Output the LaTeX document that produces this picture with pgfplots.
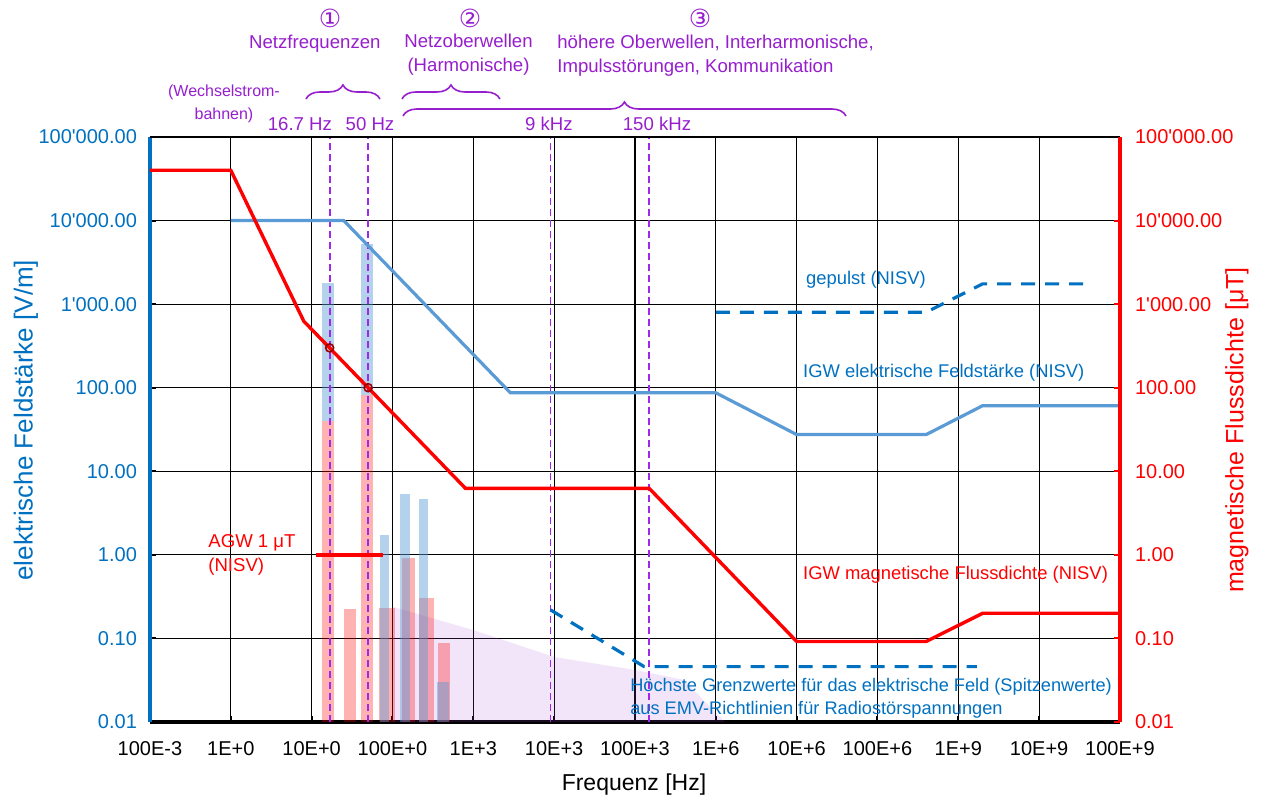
\documentclass[border=0pt]{standalone}
\usepackage{fontspec}
\setmainfont{Liberation Sans}
\newfontfamily\symfont{DejaVu Sans}
\usepackage{pgfplots}
\pgfplotsset{compat=1.18}
\usetikzlibrary{decorations.pathreplacing}

\definecolor{eblue}{RGB}{0,112,192}
\definecolor{lblue}{RGB}{91,155,213}
\definecolor{vio}{RGB}{150,30,205}
\definecolor{vline}{RGB}{160,40,235}
\definecolor{shade}{RGB}{170,80,220}

\newcommand{\q}{\textquotesingle}
\newcommand{\fs}[1]{\fontsize{#1}{#1}\selectfont}

\begin{document}
\begin{tikzpicture}
\begin{axis}[
  scale only axis, width=485pt, height=292.5pt,
  xmode=log, ymode=log,
  xmin=1e-1, xmax=1e11, ymin=1e-2, ymax=1e5,
  clip=false,
  axis x line*=bottom, axis y line*=left,
  x axis line style={black, line width=2pt, -},
  y axis line style={eblue, line width=2pt, -},
  xtick={1e-1,1e0,1e1,1e2,1e3,1e4,1e5,1e6,1e7,1e8,1e9,1e10,1e11},
  xticklabels={100E-3,1E+0,10E+0,100E+0,1E+3,10E+3,100E+3,1E+6,10E+6,100E+6,1E+9,10E+9,100E+9},
  ytick={1e-2,1e-1,1e0,1e1,1e2,1e3,1e4,1e5},
  yticklabels={0.01,0.10,1.00,10.00,100.00,1\q 000.00,10\q 000.00,100\q 000.00},
  minor tick num=0, minor x tick style={draw=none}, minor y tick style={draw=none},
  xminorgrids=false, yminorgrids=false,
  grid=major, major grid style={black, line width=0.6pt},
  tick style={black, line width=1pt}, major tick length=3pt,
  tick align=inside,
  xticklabel style={font=\fs{10}, black, yshift=-6pt},
  yticklabel style={font=\fs{10}, eblue, xshift=-3pt},
]
% bounding frame of the whole figure
\coordinate (BL) at (rel axis cs:-0.1546,-0.1299);
\coordinate (TR) at (rel axis cs:1.1464,1.2342);

% band of typical interference spectra
\addplot[fill=shade, fill opacity=0.15, draw=none]
  coordinates {(100,0.01)(100,0.24)(1e3,0.126)(1e4,0.06)(1e5,0.042)(4e5,0.032)(1.3e6,0.01)} -- cycle;

% magnetic flux density bars
\addplot[fill=red, fill opacity=0.3, draw=none] coordinates {(13.4,0.01)(13.4,40)(18.9,40)(18.9,0.01)} -- cycle;
\addplot[fill=red, fill opacity=0.3, draw=none] coordinates {(40.7,0.01)(40.7,82)(57.4,82)(57.4,0.01)} -- cycle;
\addplot[fill=red, fill opacity=0.3, draw=none] coordinates {(25.1,0.01)(25.1,0.225)(35.4,0.225)(35.4,0.01)} -- cycle;
\addplot[fill=red, fill opacity=0.3, draw=none] coordinates {(68,0.01)(68,0.23)(107,0.23)(107,0.01)} -- cycle;
\addplot[fill=red, fill opacity=0.3, draw=none] coordinates {(131,0.01)(131,0.92)(190,0.92)(190,0.01)} -- cycle;
\addplot[fill=red, fill opacity=0.3, draw=none] coordinates {(213,0.01)(213,0.305)(327,0.305)(327,0.01)} -- cycle;
\addplot[fill=red, fill opacity=0.3, draw=none] coordinates {(366,0.01)(366,0.088)(514,0.088)(514,0.01)} -- cycle;

% electric field bars
\addplot[fill=lblue, fill opacity=0.45, draw=none] coordinates {(13.4,40)(13.4,1790)(18.9,1790)(18.9,40)} -- cycle;
\addplot[fill=lblue, fill opacity=0.45, draw=none] coordinates {(40.7,82)(40.7,5300)(57.4,5300)(57.4,82)} -- cycle;
\addplot[fill=lblue, fill opacity=0.45, draw=none] coordinates {(70,0.01)(70,1.75)(90.6,1.75)(90.6,0.01)} -- cycle;
\addplot[fill=lblue, fill opacity=0.45, draw=none] coordinates {(124,0.01)(124,5.4)(165,5.4)(165,0.01)} -- cycle;
\addplot[fill=lblue, fill opacity=0.45, draw=none] coordinates {(213,0.01)(213,4.6)(275,4.6)(275,0.01)} -- cycle;
\addplot[fill=lblue, fill opacity=0.45, draw=none] coordinates {(356,0.01)(356,0.030)(500,0.030)(500,0.01)} -- cycle;

% frequency markers
\addplot[vline, line width=0.9pt, dash pattern=on 3.5pt off 2pt] coordinates {(16.7,0.01)(16.7,1e5)};
\addplot[vline, line width=0.9pt, dash pattern=on 3.5pt off 2pt] coordinates {(50,0.01)(50,1e5)};
\addplot[vline, line width=0.9pt, dash pattern=on 3.5pt off 2pt] coordinates {(9e3,0.01)(9e3,1e5)};
\addplot[vline, line width=0.9pt, dash pattern=on 3.5pt off 2pt] coordinates {(1.5e5,0.01)(1.5e5,1e5)};

% IGW electric field (NISV)
\addplot[lblue, line width=1.6pt] coordinates
  {(1,1e4)(25,1e4)(2873,87)(1e6,87)(1e7,27.5)(4e8,27.5)(2e9,61)(1e11,61)};
% pulsed
\addplot[eblue, line width=1.6pt, dash pattern=on 7pt off 5pt] coordinates
  {(1e6,800)(4e8,800)(2e9,1750)(4e10,1750)};
% EMV limits
\addplot[eblue, line width=1.6pt, dash pattern=on 7pt off 5pt] coordinates
  {(9e3,0.22)(1.3e5,0.046)(1.7e9,0.046)};
% IGW magnetic flux density (NISV)
\addplot[red, line width=1.7pt] coordinates
  {(1e-1,4e4)(1,4e4)(8,625)(800,6.25)(1.5e5,6.25)(1e7,0.092)(4e8,0.092)(2e9,0.2)(1e11,0.2)};
% AGW 1 uT
\addplot[red, line width=1.9pt] coordinates {(11.3,1)(76,1)};
% values at 16.7 Hz and 50 Hz
\addplot[only marks, mark=o, mark size=2pt, mark options={draw=red!60!black, line width=0.8pt}]
  coordinates {(16.7,300)(50,100)};

% curve labels
\node[anchor=west, inner sep=0pt, text=eblue, font=\fs{9.2}] at (rel axis cs:0.676,0.7556) {gepulst (NISV)};
\node[anchor=west, inner sep=0pt, text=eblue, font=\fs{9.2}] at (rel axis cs:0.673,0.5966) {IGW elektrische Feldstärke (NISV)};
\node[anchor=west, inner sep=0pt, text=red, font=\fs{9.2}] at (rel axis cs:0.673,0.2513) {IGW magnetische Flussdichte (NISV)};
\node[anchor=west, text=red, font=\fs{9.3}, align=left, inner sep=0pt] at (rel axis cs:0.0598,0.2855) {AGW 1 μT\\[3pt](NISV)};
\node[anchor=west, text=eblue, font=\fs{9.1}, align=left, inner sep=0pt] at (rel axis cs:0.4948,0.041)
  {Höchste Grenzwerte für das elektrische Feld (Spitzenwerte)\\[2.5pt]aus EMV-Richtlinien für Radiostörspannungen};

% frequency ranges above the plot
\node[text=vio, font=\symfont\fs{12.5}, inner sep=0pt] at (rel axis cs:0.1856,1.2034) {①};
\node[text=vio, font=\fs{9.3}, inner sep=0pt] at (rel axis cs:0.170,1.159) {Netzfrequenzen};
\node[text=vio, font=\symfont\fs{12.5}, inner sep=0pt] at (rel axis cs:0.3299,1.2034) {②};
\node[text=vio, font=\fs{9.3}, align=center, inner sep=0pt] at (rel axis cs:0.3284,1.141) {Netzoberwellen\\[3pt](Harmonische)};
\node[text=vio, font=\symfont\fs{12.5}, inner sep=0pt] at (rel axis cs:0.567,1.2034) {③};
\node[anchor=west, text=vio, font=\fs{9.3}, align=left, inner sep=0pt] at (rel axis cs:0.4196,1.139)
  {höhere Oberwellen, Interharmonische,\\[3pt]Impulsstörungen, Kommunikation};
\node[text=vio, font=\fs{8}, align=center, inner sep=0pt] at (rel axis cs:0.0763,1.0564) {(Wechselstrom-\\[3.5pt]bahnen)};
\node[text=vio, font=\fs{9.3}] at (rel axis cs:0.1546,1.0222) {16.7 Hz};
\node[text=vio, font=\fs{9.3}] at (rel axis cs:0.2268,1.0222) {50 Hz};
\node[text=vio, font=\fs{9.3}] at (rel axis cs:0.4113,1.0222) {9 kHz};
\node[text=vio, font=\fs{9.3}] at (rel axis cs:0.5227,1.0222) {150 kHz};
\draw[vio, line width=0.8pt, decorate, decoration={brace, amplitude=7pt}]
  (rel axis cs:0.1608,1.065) -- (rel axis cs:0.2371,1.065);
\draw[vio, line width=0.8pt, decorate, decoration={brace, amplitude=7pt}]
  (rel axis cs:0.2598,1.065) -- (rel axis cs:0.3608,1.065);
\draw[vio, line width=0.8pt, decorate, decoration={brace, amplitude=7pt}]
  (rel axis cs:0.2608,1.0359) -- (rel axis cs:0.7175,1.0359);

% axis titles
\node[rotate=90, text=eblue, font=\fs{13}] at (rel axis cs:-0.128,0.516) {elektrische Feldstärke [V/m]};
\node[rotate=90, text=red, font=\fs{12.5}] at (rel axis cs:1.1206,0.499) {magnetische Flussdichte [μT]};
\node[font=\fs{11.5}] at (rel axis cs:0.499,-0.1077) {Frequenz [Hz]};
\end{axis}

% right-hand scale for the magnetic flux density
\begin{axis}[
  scale only axis, width=485pt, height=292.5pt,
  xmode=log, ymode=log,
  xmin=1e-1, xmax=1e11, ymin=1e-2, ymax=1e5,
  axis x line*=top, axis y line*=right,
  x axis line style={black, line width=0.9pt, -},
  y axis line style={red, line width=2pt, -},
  xtick=\empty, xticklabels={},
  ytick={1e-2,1e-1,1e0,1e1,1e2,1e3,1e4,1e5},
  yticklabels={0.01,0.10,1.00,10.00,100.00,1\q 000.00,10\q 000.00,100\q 000.00},
  minor y tick style={draw=none},
  ytick style={red, line width=1pt}, major tick length=3pt, tick align=inside,
  yticklabel style={font=\fs{10}, red, xshift=4pt},
]
\end{axis}
\pgfresetboundingbox
\path (BL) rectangle (TR);
\end{tikzpicture}
\end{document}
